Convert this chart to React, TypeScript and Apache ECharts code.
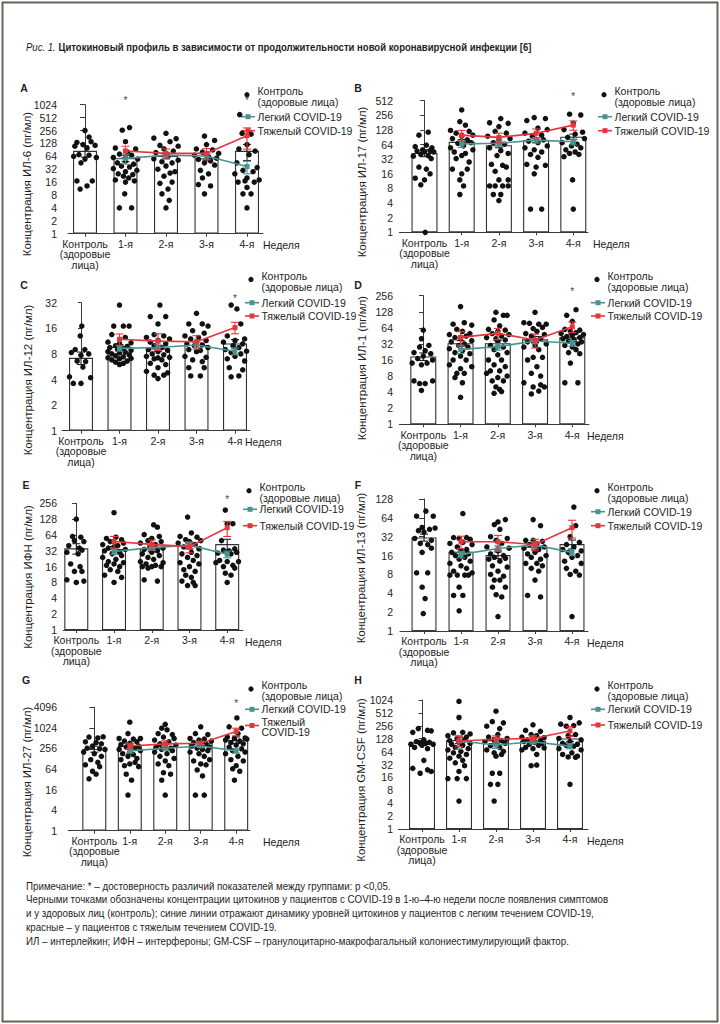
import React, { useEffect, useRef } from "react";
import * as echarts from "echarts";

const CATEGORIES = ["Контроль\n(здоровые\nлица)", "1-я", "2-я", "3-я", "4-я"];
const WEEKS = [1, 2, 3, 4];
const X_NAME = "Неделя";
const LEG_CONTROL = "Контроль\n(здоровые лица)";
const LEG_MILD = "Легкий COVID-19";
const LEG_SEVERE = "Тяжелый COVID-19";
const LEG_SEVERE_WRAPPED = "Тяжелый\nCOVID-19";
const TITLE_PREFIX = "Рис. 1.";
const TITLE = "Цитокиновый профиль в зависимости от продолжительности новой коронавирусной инфекции [6]";
const NOTE_LINES = [
  "Примечание: * – достоверность различий показателей между группами: p <0,05.",
  "Черными точками обозначены концентрации цитокинов у пациентов с COVID-19 в 1-ю–4-ю недели после появления симптомов",
  "и у здоровых лиц (контроль); синие линии отражают динамику уровней цитокинов у пациентов с легким течением COVID-19,",
  "красные – у пациентов с тяжелым течением COVID-19.",
  "ИЛ – интерлейкин; ИФН – интерфероны; GM-CSF – гранулоцитарно-макрофагальный колониестимулирующий фактор.",
];

const TICKS_1024 = [1, 2, 4, 8, 16, 32, 64, 128, 256, 512, 1024];
const TICKS_512 = [1, 2, 4, 8, 16, 32, 64, 128, 256, 512];
const TICKS_256 = [1, 2, 4, 8, 16, 32, 64, 128, 256];
const TICKS_128 = [1, 2, 4, 8, 16, 32, 64, 128];
const TICKS_32 = [1, 2, 4, 8, 16, 32];
const TICKS_4096 = [1, 4, 16, 64, 256, 1024, 4096];

// ---------- A: ИЛ-6 ----------
const A_YNAME = "Концентрация ИЛ-6 (пг/мл)";
const A_BAR = [86, 58, 65, 58, 86];
const A_BAR_ERR = [25, 10, 8, 8, 35];
const A_MILD = [57, 68, 65, 37];
const A_MILD_ERR = [15, 10, 10, 12];
const A_SEVERE = [85, 75, 75, 194];
const A_SEVERE_ERR = [25, 20, 22, 100];
const A_STARS = [1, 4];
const A_DOTS = [
  [[0, 256], [0.1, 180], [-0.2, 135], [0.15, 140], [-0.05, 120], [-0.25, 110], [0.25, 115], [0.05, 100], [-0.15, 70], [0.1, 68], [-0.28, 64], [0.28, 60], [0, 55], [-0.1, 45], [0.18, 17], [-0.2, 17], [0.05, 13], [-0.12, 11]],
  [[0.1, 300], [-0.08, 260], [0, 140], [-0.25, 100], [0.25, 95], [0.05, 80], [-0.15, 72], [0.15, 68], [-0.3, 60], [0.3, 55], [0, 50], [-0.2, 45], [0.2, 42], [-0.1, 38], [0.1, 36], [-0.3, 33], [0.28, 30], [0, 28], [-0.18, 25], [0.18, 24], [-0.05, 22], [0.08, 20], [-0.25, 18], [0.22, 17], [0, 16], [-0.02, 8.5], [-0.15, 4], [0.15, 4]],
  [[0, 220], [-0.3, 170], [0.25, 165], [0.1, 140], [-0.15, 115], [0.3, 110], [-0.05, 95], [0.18, 85], [-0.25, 78], [0.05, 64], [-0.3, 56], [0.3, 52], [-0.1, 48], [0.15, 45], [0, 38], [-0.2, 32], [0.22, 28], [0.1, 26], [-0.05, 22], [0.15, 16], [-0.15, 15], [0.05, 11], [-0.1, 8.5], [0.08, 6], [0, 4]],
  [[-0.05, 190], [0.2, 150], [0, 120], [-0.25, 95], [0.15, 90], [-0.1, 80], [0.3, 75], [-0.3, 68], [0.05, 62], [0.25, 58], [-0.2, 54], [0.1, 50], [-0.05, 45], [0.2, 40], [-0.15, 30], [0.05, 25], [-0.1, 20], [-0.2, 14], [0.1, 13], [-0.05, 8.5]],
  [[-0.18, 600], [-0.12, 220], [0.1, 210], [0, 120], [-0.2, 95], [0.2, 85], [0.05, 70], [-0.25, 45], [0.25, 35], [-0.1, 30], [0.15, 28], [-0.3, 25], [0.3, 18], [0, 20], [-0.05, 17], [-0.22, 16], [0.18, 16], [0, 12], [-0.1, 8.5], [0.1, 8.5], [0, 4]],
];

// ---------- B: ИЛ-17 ----------
const B_YNAME = "Концентрация ИЛ-17 (пг/мл)";
const B_BAR = [43, 73, 62, 79, 93];
const B_BAR_ERR = [7, 8, 7, 9, 12];
const B_MILD = [66, 68, 79, 73];
const B_MILD_ERR = [10, 8, 10, 10];
const B_SEVERE = [100, 90, 109, 161];
const B_SEVERE_ERR = [25, 20, 25, 35];
const B_STARS = [4];
const B_DOTS = [
  [[0.1, 115], [-0.15, 100], [0.05, 62], [-0.25, 58], [0.2, 55], [-0.05, 50], [0.15, 48], [-0.2, 47], [0, 46], [0.25, 45], [-0.1, 40], [0.1, 38], [-0.3, 37], [0.18, 33], [-0.15, 22], [0.05, 20], [0.15, 16], [-0.25, 13], [0, 12], [-0.1, 9.5], [0.02, 1]],
  [[0, 330], [-0.05, 190], [0.1, 160], [-0.3, 125], [0.2, 120], [-0.15, 110], [0.3, 100], [0, 95], [-0.25, 85], [0.15, 80], [0.25, 70], [-0.1, 68], [0.05, 60], [-0.3, 55], [0.3, 50], [-0.2, 45], [0.1, 42], [0, 38], [-0.15, 33], [0.2, 28], [-0.25, 20], [0.15, 20], [0, 16], [-0.05, 12], [0.05, 9], [-0.05, 6]],
  [[0.05, 220], [-0.25, 180], [0.25, 175], [0, 150], [-0.1, 120], [0.2, 110], [-0.3, 95], [0.3, 85], [0, 80], [-0.15, 70], [0.15, 65], [-0.25, 55], [0.05, 48], [0.25, 42], [-0.05, 38], [-0.2, 25], [0.1, 24], [0.2, 22], [-0.1, 18], [0, 12], [0.25, 12], [-0.25, 9], [-0.1, 9], [0.1, 9], [0.25, 9], [-0.15, 6], [0.05, 6], [0, 4.5]],
  [[-0.05, 230], [0.25, 220], [-0.25, 200], [0.05, 140], [0.3, 130], [-0.3, 110], [0.15, 100], [-0.1, 95], [0.2, 80], [-0.2, 75], [0.05, 70], [0.3, 60], [-0.3, 55], [-0.05, 50], [0.15, 45], [-0.15, 40], [0.05, 35], [-0.25, 25], [0.25, 24], [0, 22], [-0.05, 16], [-0.15, 3], [0.15, 3]],
  [[-0.1, 270], [0.2, 260], [0, 175], [-0.25, 130], [0.25, 115], [0.05, 105], [-0.15, 90], [0.3, 85], [-0.3, 70], [0.1, 65], [-0.05, 60], [0.2, 55], [-0.2, 50], [0.05, 45], [-0.1, 42], [0.15, 40], [-0.25, 36], [-0.02, 12], [0, 3]],
];

// ---------- C: ИЛ-12 ----------
const C_YNAME = "Концентрация ИЛ-12 (пг/мл)";
const C_BAR = [7.2, 9.7, 9.3, 10.2, 10.6];
const C_BAR_ERR = [1.2, 0.6, 0.7, 0.7, 1.2];
const C_MILD = [9.3, 9.5, 10.2, 8.6];
const C_MILD_ERR = [0.7, 0.7, 0.7, 0.8];
const C_SEVERE = [11.9, 11.3, 11.1, 16.3];
const C_SEVERE_ERR = [1.8, 2.5, 2, 2.5];
const C_STARS = [4];
const C_DOTS = [
  [[0.02, 17], [-0.02, 13], [-0.15, 9], [0.1, 9], [-0.25, 8.3], [0.2, 8], [0, 7.7], [-0.1, 6.6], [0.12, 6.5], [0.05, 5.6], [-0.3, 4.3], [0.25, 4.2], [-0.2, 3.6], [0, 3.6]],
  [[0, 30], [-0.15, 17], [0.1, 17], [0.25, 17], [-0.2, 13.5], [0.15, 12.5], [-0.3, 11], [0.3, 10.8], [0, 10.5], [-0.1, 10], [0.2, 9.8], [-0.25, 9.5], [0.1, 9.2], [-0.05, 9], [0.3, 8.8], [-0.3, 8.5], [0.15, 8.4], [0, 8.2], [-0.2, 8], [0.25, 7.8], [-0.1, 7.6], [0.1, 7.4], [-0.3, 7.2], [0.3, 7.1], [0, 7], [-0.2, 6.8], [0.2, 6.6], [-0.1, 6.4], [0.1, 6.2], [0, 6]],
  [[0.05, 30], [-0.2, 22], [0.2, 22], [0, 18], [-0.1, 13.5], [0.15, 13], [-0.3, 12.5], [0.3, 12], [0, 11.5], [-0.2, 11], [0.2, 10.5], [-0.1, 10], [0.1, 9.5], [-0.25, 9], [0.25, 8.8], [0, 8.5], [-0.15, 8], [0.15, 7.8], [-0.3, 7.5], [0.3, 7.3], [0, 7.2], [-0.1, 7], [0.1, 6.8], [-0.2, 6.2], [0.2, 6], [0, 5.5], [-0.3, 5], [0.25, 4.8], [-0.1, 4.5], [0.15, 4.5], [0, 4.1]],
  [[0, 24], [-0.2, 18], [0.15, 18], [0.3, 17], [-0.1, 15], [0.2, 14], [-0.3, 13], [0.05, 12.5], [-0.15, 12], [0.25, 11.5], [0, 11], [-0.25, 10.5], [0.15, 10.2], [-0.05, 10], [0.3, 9.5], [-0.2, 9], [0.1, 8.8], [0, 8.5], [-0.3, 7.5], [0.25, 7.3], [-0.1, 6.8], [0.15, 6.5], [-0.2, 5.5], [0.2, 5.5], [-0.15, 4.4], [0.1, 4.4]],
  [[-0.1, 30], [0.05, 27], [0.15, 18], [-0.2, 13], [0.25, 12], [0, 11.5], [-0.3, 11], [0.2, 10.5], [-0.05, 10], [0.1, 9.5], [-0.25, 9], [0.3, 8.6], [-0.1, 8.3], [0.15, 8], [0, 7.5], [-0.2, 7], [0.25, 6.6], [-0.15, 5.5], [0.2, 5.2], [-0.1, 4.3], [0.1, 4.4]],
];

// ---------- D: ИЛ-1 ----------
const D_YNAME = "Концентрация ИЛ-1 (пг/мл)";
const D_BAR = [18.7, 33, 33, 39, 42.5];
const D_BAR_ERR = [3, 4, 4, 5, 6];
const D_MILD = [25.3, 28.4, 36.3, 33];
const D_MILD_ERR = [4, 4, 4, 4];
const D_SEVERE = [42.5, 50.5, 37.8, 67];
const D_SEVERE_ERR = [12, 12, 11, 15];
const D_STARS = [4];
const D_DOTS = [
  [[0, 58], [-0.05, 40], [0.15, 30], [-0.1, 28], [0.05, 24], [-0.25, 22], [0.2, 21], [0, 19], [-0.15, 17], [0.25, 16], [-0.3, 14], [0.1, 14], [-0.05, 13], [0.25, 6.5], [-0.25, 6.5], [0.05, 5.8], [-0.1, 5.8], [-0.05, 4.3]],
  [[0, 160], [0.1, 80], [-0.2, 75], [0.3, 72], [-0.1, 60], [0.05, 55], [0.25, 50], [-0.3, 48], [0.15, 45], [-0.15, 42], [0, 40], [0.3, 37], [-0.25, 35], [0.1, 32], [-0.05, 30], [0.2, 28], [-0.3, 26], [0.05, 24], [-0.15, 22], [0.25, 21], [0, 19], [-0.2, 16], [0.15, 16], [-0.3, 13], [0.3, 12], [0, 11], [-0.1, 9], [0.1, 9], [-0.15, 7.5], [0.05, 6], [0, 3.2]],
  [[-0.05, 125], [0.15, 110], [0.25, 110], [-0.1, 90], [0.05, 70], [-0.25, 60], [0.2, 58], [0, 55], [-0.15, 50], [0.3, 48], [0.1, 45], [-0.3, 42], [-0.05, 40], [0.2, 38], [0, 35], [-0.2, 30], [0.15, 28], [-0.1, 25], [0.25, 22], [0, 20], [-0.25, 16], [0.1, 16], [-0.1, 13], [0.2, 12], [-0.2, 10], [0.05, 10], [-0.3, 9], [0.25, 8], [0, 7.5], [-0.15, 6.5], [0.15, 6.5], [-0.05, 5], [0.05, 4.5], [-0.1, 3.8], [0.1, 4.1]],
  [[0, 125], [-0.3, 80], [-0.15, 78], [0.1, 75], [0.3, 75], [0.2, 65], [-0.05, 62], [0.05, 55], [-0.25, 50], [0.25, 48], [-0.1, 45], [0.15, 40], [-0.2, 35], [0.3, 32], [0, 30], [-0.3, 28], [0.1, 25], [-0.05, 18], [0.2, 18], [-0.2, 16], [0.05, 12], [-0.1, 9], [0.15, 8], [-0.3, 6], [0.15, 5.5], [0.25, 5], [-0.05, 5], [-0.1, 3.7], [0.1, 4.2]],
  [[0.1, 140], [-0.15, 110], [0, 85], [-0.2, 60], [0.2, 58], [-0.05, 55], [0.1, 52], [-0.3, 50], [0.3, 48], [0, 46], [-0.15, 44], [0.2, 42], [-0.25, 40], [0.05, 38], [-0.1, 36], [0.25, 35], [0.15, 32], [-0.2, 30], [0, 28], [0.1, 25], [-0.1, 22], [0.2, 21], [-0.05, 14], [-0.2, 6], [0.15, 6]],
];

// ---------- E: ИФН ----------
const E_YNAME = "Концентрация ИФН (пг/мл)";
const E_BAR = [35.7, 34.7, 35.7, 39.6, 43];
const E_BAR_ERR = [8, 4, 5, 5, 10];
const E_MILD = [31, 36.8, 41, 27.5];
const E_MILD_ERR = [4, 4, 5, 4];
const E_SEVERE = [48, 42.5, 38.4, 88];
const E_SEVERE_ERR = [12, 9, 9, 28];
const E_STARS = [4];
const E_DOTS = [
  [[0, 128], [-0.1, 60], [0.12, 58], [-0.05, 50], [0.2, 48], [-0.2, 40], [0.08, 36], [0.15, 33], [-0.25, 30], [0.05, 28], [-0.15, 18], [0.1, 16], [-0.05, 13], [0.15, 13], [-0.25, 9], [0.2, 8.5], [0, 8]],
  [[0, 170], [0.05, 58], [-0.2, 55], [0.2, 52], [-0.1, 48], [0.25, 45], [-0.3, 42], [0.1, 40], [0, 38], [-0.15, 36], [0.3, 34], [-0.25, 32], [0.15, 30], [-0.05, 28], [0.2, 26], [-0.3, 24], [0.05, 22], [-0.15, 20], [0.25, 19], [0, 18], [-0.2, 17], [0.15, 16], [-0.1, 14], [0.1, 13], [-0.25, 11], [0.2, 10], [0, 8]],
  [[0.05, 100], [0.15, 90], [-0.2, 65], [0.2, 60], [0, 55], [-0.1, 50], [0.25, 48], [-0.3, 45], [0.1, 42], [-0.05, 38], [0.3, 36], [-0.2, 34], [0.15, 32], [0, 30], [-0.25, 28], [0.2, 26], [-0.1, 24], [0.05, 22], [-0.3, 20], [0.3, 19], [-0.15, 18], [0.1, 17], [0, 16], [-0.25, 16], [0.25, 16], [-0.1, 15], [-0.2, 9], [0.15, 8.5]],
  [[-0.05, 140], [0.05, 70], [-0.25, 60], [0.2, 58], [-0.1, 52], [0.3, 50], [0, 48], [-0.3, 45], [0.15, 42], [-0.15, 38], [0.25, 35], [0.05, 30], [-0.2, 28], [0.2, 26], [-0.05, 24], [0.1, 21], [-0.25, 19], [0.25, 18], [0, 16], [-0.15, 14], [0.15, 13], [-0.1, 11], [0.05, 10], [-0.2, 8.5], [0.1, 8], [-0.05, 7], [0.15, 7]],
  [[-0.05, 190], [0, 105], [0.15, 105], [-0.15, 50], [0.2, 35], [-0.1, 33], [0.05, 32], [0.25, 30], [-0.25, 29], [0.1, 28], [-0.2, 21], [0.3, 20], [0, 20], [-0.3, 19], [0.15, 17], [-0.1, 16], [0.2, 15], [-0.05, 12], [0.1, 11], [0, 8]],
];

// ---------- F: ИЛ-13 ----------
const F_YNAME = "Концентрация ИЛ-13 (пг/мл)";
const F_BAR = [31.2, 18.4, 16.3, 22.2, 24.4];
const F_BAR_ERR = [4, 2, 2, 2.5, 4];
const F_MILD = [16.7, 20.8, 23.6, 18];
const F_MILD_ERR = [2, 2, 3, 2];
const F_SEVERE = [26.6, 26.6, 24.1, 44.6];
const F_SEVERE_ERR = [6, 7, 5, 14];
const F_STARS: number[] = [];
const F_DOTS = [
  [[0.05, 82], [-0.2, 68], [0.25, 68], [-0.05, 45], [0.15, 42], [-0.15, 40], [0.3, 44], [0, 38], [-0.25, 30], [0.2, 28], [-0.1, 25], [0.1, 24], [-0.05, 18], [0.2, 21], [-0.2, 8.5], [0.1, 8.5], [-0.05, 5], [0.03, 3.3], [-0.02, 1.9]],
  [[0.05, 75], [-0.2, 31], [0.15, 31], [-0.05, 30], [0.25, 29], [0.05, 26], [-0.3, 25], [0.3, 24], [-0.1, 22], [0.15, 20], [0, 19], [-0.25, 18], [0.2, 17], [-0.15, 16], [0.1, 15], [-0.05, 14], [0.25, 13], [-0.3, 12], [0, 11], [0.15, 10], [-0.2, 9], [0.3, 8.5], [-0.3, 7.8], [-0.1, 7.8], [0.1, 7.8], [0.2, 7.8], [-0.05, 5], [-0.2, 3.7], [0.05, 3.7], [-0.05, 2.1]],
  [[0, 55], [0.2, 60], [-0.1, 50], [0.05, 42], [-0.2, 32], [0.25, 30], [-0.05, 28], [0.1, 25], [-0.3, 22], [0.3, 21], [0, 19], [-0.2, 17], [0.15, 16], [-0.1, 15], [0.2, 14.5], [-0.25, 14], [0.05, 13], [-0.15, 11], [0.25, 10.5], [0, 9], [-0.2, 8], [0.15, 7.5], [-0.1, 6.5], [0.05, 6.5], [0.2, 5], [-0.15, 5], [-0.05, 3.8], [0.1, 3.5], [0, 1.7]],
  [[-0.05, 60], [0.15, 48], [-0.25, 28], [-0.05, 28], [0.2, 27], [0.05, 25], [-0.15, 24], [0.25, 22], [-0.3, 21], [0.1, 20], [0, 18], [-0.2, 17], [0.3, 16], [-0.1, 15], [0.15, 14], [-0.25, 12], [0.05, 12], [0.2, 11], [-0.1, 10], [0.1, 9], [0, 6.5], [-0.2, 3.7], [0.15, 3.5]],
  [[0.05, 95], [0.1, 48], [-0.05, 32], [0.2, 26], [-0.15, 24], [0.05, 22], [-0.25, 20], [0.25, 19], [-0.1, 18], [0.15, 16], [0, 15], [-0.2, 13], [0.25, 12], [-0.15, 10], [0.1, 9], [-0.05, 8], [0.2, 7.8], [0, 1.7]],
];

// ---------- G: ИЛ-27 ----------
const G_YNAME = "Концентрация ИЛ-27 (пг/мл)";
const G_BAR = [248, 303, 303, 363, 455];
const G_BAR_ERR = [50, 40, 40, 50, 100];
const G_MILD = [217, 259, 303, 217];
const G_MILD_ERR = [30, 30, 30, 30];
const G_SEVERE = [303, 347, 363, 800];
const G_SEVERE_ERR = [60, 80, 50, 200];
const G_STARS = [4];
const G_DOTS = [
  [[-0.15, 550], [0.1, 520], [0.25, 560], [-0.25, 400], [0.05, 380], [0.2, 350], [-0.05, 300], [-0.2, 260], [0.15, 250], [0.3, 240], [-0.3, 200], [0, 180], [0.2, 150], [-0.1, 120], [0.1, 100], [-0.25, 85], [0.15, 75], [-0.05, 55], [0.05, 45], [-0.15, 33]],
  [[0, 1500], [-0.05, 700], [-0.3, 500], [0.3, 500], [0.1, 480], [-0.15, 420], [0.2, 400], [0, 360], [-0.25, 330], [0.25, 300], [-0.1, 280], [0.15, 260], [-0.3, 240], [0.3, 220], [0, 200], [-0.2, 180], [0.1, 170], [-0.05, 150], [0.2, 130], [-0.25, 120], [0.15, 100], [0, 90], [-0.15, 80], [0.25, 75], [-0.1, 45], [0.05, 30], [-0.05, 11]],
  [[0, 1300], [-0.1, 1000], [0.05, 900], [-0.2, 700], [0.2, 650], [-0.05, 550], [0.25, 500], [-0.3, 450], [0.1, 400], [-0.15, 350], [0.3, 320], [0, 300], [-0.25, 280], [0.15, 260], [-0.1, 240], [0.2, 220], [-0.3, 200], [0.05, 180], [-0.15, 150], [0.25, 130], [0, 110], [-0.2, 90], [0.1, 80], [-0.05, 50], [0.15, 45], [-0.1, 30], [0, 11]],
  [[0, 1100], [-0.15, 700], [0.2, 650], [-0.3, 500], [0.1, 480], [-0.05, 450], [0.3, 420], [-0.2, 380], [0.15, 350], [0, 320], [-0.25, 300], [0.25, 280], [-0.1, 260], [0.05, 240], [0.2, 220], [-0.3, 200], [-0.05, 180], [0.1, 150], [0.25, 120], [-0.2, 110], [0, 90], [0.15, 85], [-0.1, 60], [0.05, 40], [-0.15, 11], [0.1, 11]],
  [[0.02, 2000], [-0.2, 1100], [0.15, 1000], [0.05, 700], [-0.25, 550], [0.25, 520], [-0.05, 500], [0.3, 480], [-0.3, 450], [0.1, 420], [-0.15, 380], [0.2, 350], [0, 320], [-0.2, 280], [0.15, 250], [-0.1, 220], [0.25, 200], [-0.3, 180], [0.05, 150], [-0.15, 120], [0.2, 110], [0, 80], [-0.1, 65], [0.1, 55], [-0.05, 30]],
];

// ---------- H: GM-CSF ----------
const H_YNAME = "Концентрация GM-CSF (пг/мл)";
const H_BAR = [105, 119, 119, 115, 130];
const H_BAR_ERR = [12, 20, 15, 12, 20];
const H_MILD = [113, 91, 109, 86];
const H_MILD_ERR = [40, 15, 12, 12];
const H_SEVERE = [113, 124, 130, 194];
const H_SEVERE_ERR = [30, 25, 20, 50];
const H_STARS: number[] = [];
const H_DOTS = [
  [[-0.1, 220], [0.15, 200], [0.25, 195], [-0.25, 180], [0.05, 120], [-0.15, 110], [0.2, 105], [-0.05, 100], [0.1, 100], [-0.3, 95], [0.3, 95], [0, 90], [-0.2, 80], [0.15, 75], [0.05, 40], [-0.25, 26], [0.15, 24], [-0.05, 20], [0.25, 22]],
  [[0, 950], [0, 400], [-0.15, 175], [0.1, 180], [0.3, 165], [-0.3, 150], [0.2, 140], [-0.05, 130], [0.15, 120], [-0.25, 115], [0, 105], [0.3, 100], [-0.2, 95], [0.1, 90], [-0.1, 80], [0.25, 75], [-0.3, 70], [0.05, 65], [-0.15, 60], [0.2, 55], [0, 50], [-0.25, 45], [0.1, 40], [-0.1, 35], [0.15, 30], [0, 22], [-0.3, 15], [-0.05, 15], [0.2, 15], [0, 4.5]],
  [[0, 560], [-0.1, 320], [0.2, 300], [-0.25, 250], [0.1, 220], [0.05, 160], [-0.2, 140], [0.3, 130], [-0.05, 120], [0.15, 115], [-0.3, 110], [0.25, 100], [0, 95], [-0.15, 88], [0.1, 80], [-0.25, 70], [0.2, 65], [-0.05, 60], [0.15, 55], [0, 50], [-0.1, 20], [0.1, 20], [-0.15, 11], [0.05, 11], [-0.05, 4.5]],
  [[0, 270], [-0.2, 200], [0.2, 190], [-0.05, 160], [0.1, 150], [-0.3, 140], [0.3, 135], [0, 125], [-0.15, 120], [0.2, 115], [-0.25, 110], [0.05, 105], [0.25, 100], [-0.1, 95], [0.15, 90], [-0.2, 80], [0.3, 78], [0, 75], [-0.3, 70], [0.1, 55], [-0.05, 30], [0.1, 31]],
  [[0, 400], [-0.25, 280], [0.25, 300], [0.1, 260], [-0.1, 250], [0.15, 160], [-0.05, 150], [-0.3, 130], [0.3, 120], [0, 110], [-0.2, 100], [0.2, 95], [-0.1, 90], [0.1, 85], [-0.3, 75], [0.3, 70], [0.05, 60], [-0.2, 55], [0.2, 50], [-0.05, 48], [0.15, 47], [0, 11]],
];

// ---------- styling / layout ----------
const FONT = '"Liberation Sans", Arial, Helvetica, sans-serif';
const INK = "#1e1e1e";
const AXIS = "#3a3a3a";
const TEAL = "#4a9391";
const RED = "#e5363c";

type Panel = {
  letter: string; yName: string; ticks: number[];
  bar: number[]; barErr: number[]; mild: number[]; mildErr: number[];
  severe: number[]; severeErr: number[]; stars: number[]; dots: number[][][];
  box: { left: number; right: number; top: number; bottom: number; c0: number; c4: number; week: number; labelRight: number };
  title: [number, number]; letterPos: [number, number];
  leg: { L: number; c: number; m: number; s: number; wrap?: boolean };
  barW: number;
};

const PANELS: Panel[] = [
  { letter: "A", yName: A_YNAME, ticks: TICKS_1024, bar: A_BAR, barErr: A_BAR_ERR, mild: A_MILD, mildErr: A_MILD_ERR, severe: A_SEVERE, severeErr: A_SEVERE_ERR, stars: A_STARS, dots: A_DOTS,
    box: { left: 68, right: 263, top: 104.7, bottom: 233.7, c0: 85, c4: 247, week: 263, labelRight: 57 }, title: [27, 184], letterPos: [24, 88], leg: { L: 241, c: 90.7, m: 116.7, s: 130.7 }, barW: 24 },
  { letter: "B", yName: B_YNAME, ticks: TICKS_512, bar: B_BAR, barErr: B_BAR_ERR, mild: B_MILD, mildErr: B_MILD_ERR, severe: B_SEVERE, severeErr: B_SEVERE_ERR, stars: B_STARS, dots: B_DOTS,
    box: { left: 399.3, right: 588, top: 100.7, bottom: 232.3, c0: 424.5, c4: 573.3, week: 593, labelRight: 393 }, title: [362, 182], letterPos: [358, 88], leg: { L: 598, c: 90.7, m: 116.7, s: 130.7 }, barW: 26 },
  { letter: "C", yName: C_YNAME, ticks: TICKS_32, bar: C_BAR, barErr: C_BAR_ERR, mild: C_MILD, mildErr: C_MILD_ERR, severe: C_SEVERE, severeErr: C_SEVERE_ERR, stars: C_STARS, dots: C_DOTS,
    box: { left: 62, right: 250, top: 302.7, bottom: 430.7, c0: 81, c4: 235, week: 245, labelRight: 57 }, title: [28, 380], letterPos: [24, 285], leg: { L: 245, c: 275.5, m: 302.7, s: 316 }, barW: 24 },
  { letter: "D", yName: D_YNAME, ticks: TICKS_256, bar: D_BAR, barErr: D_BAR_ERR, mild: D_MILD, mildErr: D_MILD_ERR, severe: D_SEVERE, severeErr: D_SEVERE_ERR, stars: D_STARS, dots: D_DOTS,
    box: { left: 399.3, right: 589, top: 295.7, bottom: 424.3, c0: 423.3, c4: 572.3, week: 587, labelRight: 393 }, title: [362, 368], letterPos: [358, 285], leg: { L: 591, c: 275.5, m: 302.7, s: 316 }, barW: 26 },
  { letter: "E", yName: E_YNAME, ticks: TICKS_256, bar: E_BAR, barErr: E_BAR_ERR, mild: E_MILD, mildErr: E_MILD_ERR, severe: E_SEVERE, severeErr: E_SEVERE_ERR, stars: E_STARS, dots: E_DOTS,
    box: { left: 63.3, right: 243, top: 503.3, bottom: 630, c0: 76.3, c4: 227.2, week: 245, labelRight: 57 }, title: [28, 577], letterPos: [26, 485], leg: { L: 243, c: 486.7, m: 509.3, s: 525.7 }, barW: 24 },
  { letter: "F", yName: F_YNAME, ticks: TICKS_128, bar: F_BAR, barErr: F_BAR_ERR, mild: F_MILD, mildErr: F_MILD_ERR, severe: F_SEVERE, severeErr: F_SEVERE_ERR, stars: F_STARS, dots: F_DOTS,
    box: { left: 400, right: 588, top: 499, bottom: 631, c0: 424, c4: 572, week: 587, labelRight: 393 }, title: [361, 568], letterPos: [358, 485], leg: { L: 591, c: 486.7, m: 511.7, s: 525.7 }, barW: 25 },
  { letter: "G", yName: G_YNAME, ticks: TICKS_4096, bar: G_BAR, barErr: G_BAR_ERR, mild: G_MILD, mildErr: G_MILD_ERR, severe: G_SEVERE, severeErr: G_SEVERE_ERR, stars: G_STARS, dots: G_DOTS,
    box: { left: 68.3, right: 250, top: 707.3, bottom: 830.7, c0: 94.3, c4: 236.2, week: 263, labelRight: 57 }, title: [27, 782], letterPos: [26, 680], leg: { L: 245, c: 685, m: 709.3, s: 727, wrap: true }, barW: 24 },
  { letter: "H", yName: H_YNAME, ticks: TICKS_1024, bar: H_BAR, barErr: H_BAR_ERR, mild: H_MILD, mildErr: H_MILD_ERR, severe: H_SEVERE, severeErr: H_SEVERE_ERR, stars: H_STARS, dots: H_DOTS,
    box: { left: 398.3, right: 588, top: 700, bottom: 829, c0: 422, c4: 570, week: 587, labelRight: 393 }, title: [361, 780], letterPos: [358, 680], leg: { L: 591, c: 685, m: 709.3, s: 725 }, barW: 26 },
];

function errorSeries(g: number, data: number[][], color: string, z: number, cap: number) {
  return {
    type: "custom", xAxisIndex: g, yAxisIndex: g, z, silent: true,
    encode: { x: 0, y: [1, 2] },
    data,
    renderItem: (_p: any, api: any) => {
      const x = api.value(0);
      const hi = api.coord([x, api.value(2)]);
      const lo = api.coord([x, api.value(1)]);
      const st = { stroke: color, lineWidth: 1.1 };
      return {
        type: "group",
        children: [
          { type: "line", shape: { x1: hi[0], y1: hi[1], x2: lo[0], y2: lo[1] }, style: st },
          { type: "line", shape: { x1: hi[0] - cap, y1: hi[1], x2: hi[0] + cap, y2: hi[1] }, style: st },
          { type: "line", shape: { x1: lo[0] - cap, y1: lo[1], x2: lo[0] + cap, y2: lo[1] }, style: st },
        ],
      };
    },
  };
}

function buildOption() {
  const grids: any[] = [];
  const xAxes: any[] = [];
  const yAxes: any[] = [];
  const series: any[] = [];
  const graphics: any[] = [];

  PANELS.forEach((p, g) => {
    const b = p.box;
    const unit = (b.c4 - b.c0) / 4;
    const margin = b.left - b.labelRight;
    grids.push({ left: b.left, top: b.top, width: b.right - b.left, height: b.bottom - b.top, show: false, outerBoundsMode: "none", containLabel: false });
    xAxes.push({
      type: "value", gridIndex: g,
      min: -(b.c0 - b.left) / unit, max: 4 + (b.right - b.c4) / unit,
      splitLine: { show: false },
      axisLine: { show: true, lineStyle: { color: AXIS, width: 1 } },
      axisTick: { show: true, length: 3, customValues: [0, 1, 2, 3, 4], lineStyle: { color: AXIS } },
      axisLabel: {
        customValues: [0, 1, 2, 3, 4], formatter: (v: number) => CATEGORIES[Math.round(v)] ?? "",
        fontSize: 10.5, lineHeight: 10.5, color: INK, margin: 5, fontFamily: FONT, hideOverlap: false,
      },
      name: X_NAME, nameLocation: "end", nameGap: b.week - b.right, nameMoveOverlap: false,
      nameTextStyle: { fontSize: 10.5, color: INK, fontFamily: FONT, align: "left", verticalAlign: "top", padding: [6, 0, 0, 0] },
    });
    const top = p.ticks[p.ticks.length - 1];
    yAxes.push({
      type: "log", logBase: 2, gridIndex: g, min: 1, max: top,
      splitLine: { show: false }, minorTick: { show: false },
      axisLine: { show: true, lineStyle: { color: AXIS, width: 1 } },
      axisTick: { show: true, length: Math.min(5, Math.max(2, margin - 2)), customValues: p.ticks, lineStyle: { color: AXIS } },
      axisLabel: { customValues: p.ticks, formatter: (v: number) => String(Math.round(v)), fontSize: 10.5, color: INK, margin, fontFamily: FONT, hideOverlap: false },
    });

    series.push({
      type: "bar", xAxisIndex: g, yAxisIndex: g, z: 1, silent: true, barWidth: p.barW,
      data: p.bar.map((v, i) => [i, v]),
      itemStyle: { color: "#ffffff", borderColor: "#333333", borderWidth: 1.1 },
    });
    series.push(errorSeries(g, p.bar.map((v, i) => [i, v - p.barErr[i], v + p.barErr[i]]), "#222222", 2, 4));
    const dots: number[][] = [];
    p.dots.forEach((grp, i) => grp.forEach(([dx, v]) => dots.push([i + dx, v])));
    series.push({
      type: "scatter", xAxisIndex: g, yAxisIndex: g, z: 3, silent: true,
      data: dots, symbol: "circle", symbolSize: 5.5, itemStyle: { color: "#111111", opacity: 1 },
    });
    series.push({
      type: "line", xAxisIndex: g, yAxisIndex: g, z: 5, silent: true,
      data: WEEKS.map((w, i) => [w, p.mild[i]]), symbol: "rect", symbolSize: 5,
      lineStyle: { color: TEAL, width: 1.6 }, itemStyle: { color: TEAL },
    });
    series.push(errorSeries(g, WEEKS.map((w, i) => [w, p.mild[i] - p.mildErr[i], p.mild[i] + p.mildErr[i]]), TEAL, 5, 4));
    series.push({
      type: "line", xAxisIndex: g, yAxisIndex: g, z: 6, silent: true,
      data: WEEKS.map((w, i) => [w, p.severe[i]]), symbol: "rect", symbolSize: 5,
      lineStyle: { color: RED, width: 1.6 }, itemStyle: { color: RED },
    });
    series.push(errorSeries(g, WEEKS.map((w, i) => [w, p.severe[i] - p.severeErr[i], p.severe[i] + p.severeErr[i]]), RED, 6, 4));
    if (p.stars.length) {
      series.push({
        type: "custom", xAxisIndex: g, yAxisIndex: g, z: 6, silent: true,
        encode: { x: 0, y: 1 },
        data: p.stars.map((s) => [s, top]),
        renderItem: (_q: any, api: any) => {
          const pt = api.coord([api.value(0), api.value(1)]);
          return { type: "text", x: pt[0], y: pt[1] - 4, style: { text: "*", fontSize: 10, fill: "#444", align: "center", verticalAlign: "middle", fontFamily: FONT } };
        },
      });
    }

    graphics.push({ type: "text", x: p.letterPos[0], y: p.letterPos[1], style: { text: p.letter, fontSize: 10.5, fontWeight: "bold", fill: INK, fontFamily: FONT, align: "center", verticalAlign: "middle" } });
    graphics.push({ type: "text", x: p.title[0], y: p.title[1], rotation: Math.PI / 2, style: { text: p.yName, fontSize: 11.5, fill: INK, fontFamily: FONT, align: "center", verticalAlign: "middle" } });
    const L = p.leg.L;
    graphics.push({ type: "circle", shape: { cx: L + 6, cy: p.leg.c + 4, r: 2.6 }, style: { fill: "#111" } });
    graphics.push({ type: "text", x: L + 16.5, y: p.leg.c - 5.5, style: { text: LEG_CONTROL, fontSize: 10.5, lineHeight: 11, fill: INK, fontFamily: FONT, verticalAlign: "top" } });
    [[p.leg.m, TEAL, LEG_MILD, p.leg.m], [p.leg.wrap ? p.leg.s - 1.5 : p.leg.s, RED, p.leg.wrap ? LEG_SEVERE_WRAPPED : LEG_SEVERE, p.leg.s]].forEach(([yy, col, txt, ty]: any) => {
      graphics.push({ type: "line", shape: { x1: L, y1: yy, x2: L + 14, y2: yy }, style: { stroke: col, lineWidth: 1.6 } });
      graphics.push({ type: "rect", shape: { x: L + 4.5, y: yy - 2.5, width: 5, height: 5 }, style: { fill: col } });
      graphics.push({ type: "text", x: L + 16.5, y: ty, style: { text: txt, fontSize: 10.5, lineHeight: 10.5, fill: INK, fontFamily: FONT, verticalAlign: "middle" } });
    });
  });

  graphics.push({
    type: "text", x: 26, y: 47, scaleX: 0.83,
    style: {
      text: `{i|${TITLE_PREFIX}} {b|${TITLE}}`,
      fontFamily: FONT, verticalAlign: "middle",
      rich: {
        i: { fontSize: 11.5, fontStyle: "italic", fill: INK, fontFamily: FONT },
        b: { fontSize: 11.5, fontWeight: "bold", fill: INK, fontFamily: FONT },
      },
    },
  });
  graphics.push({
    type: "text", x: 26, y: 879, scaleX: 0.93,
    style: { text: NOTE_LINES.join("\n"), fontSize: 10.5, lineHeight: 13.8, fill: INK, fontFamily: FONT, verticalAlign: "top" },
  });
  graphics.push({ type: "rect", shape: { x: 2.5, y: 2.5, width: 715, height: 1019 }, style: { fill: "none", stroke: "#67665b", lineWidth: 2 }, z: 100 });

  return {
    animation: false,
    backgroundColor: "#ffffff",
    textStyle: { fontFamily: FONT },
    grid: grids,
    xAxis: xAxes,
    yAxis: yAxes,
    series,
    graphic: { elements: graphics },
  };
}

export default function App() {
  const ref = useRef<HTMLDivElement>(null);
  useEffect(() => {
    if (!ref.current) return;
    const chart = echarts.init(ref.current, null, { renderer: "svg", width: 720, height: 1024 });
    chart.setOption(buildOption() as any);
    return () => chart.dispose();
  }, []);
  return <div ref={ref} style={{ position: "absolute", left: 0, top: 0, width: 720, height: 1024, background: "#fff" }} />;
}
